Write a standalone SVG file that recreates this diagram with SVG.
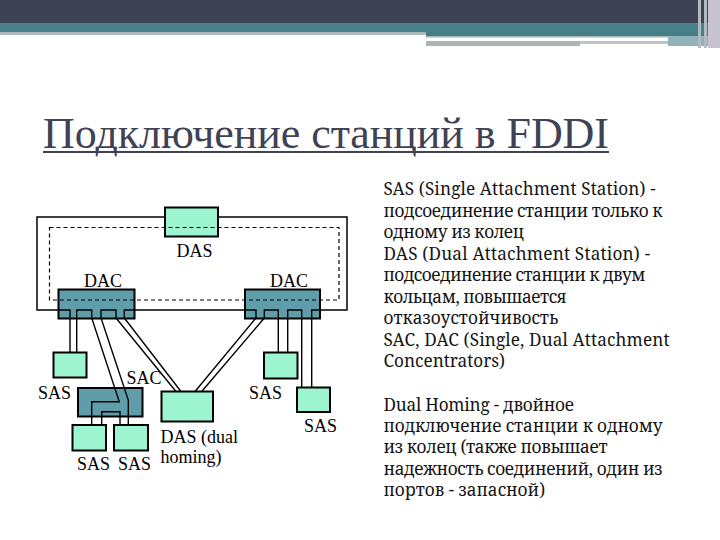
<svg xmlns="http://www.w3.org/2000/svg" width="720" height="540" viewBox="0 0 720 540">
<style>
.lbl{font-family:"Liberation Serif","Times New Roman",serif;font-size:18px;fill:#000}
.txt{font-family:"Noto Serif","FreeSerif","Tinos",serif;font-size:17.2px;fill:#141414}
.das{fill:#9cf5d0;stroke:#000;stroke-width:2}
.dac{fill:#5f9dab;stroke:#000;stroke-width:2}
.wire{fill:none;stroke:#000;stroke-width:1.4}
.ring{fill:none;stroke:#000;stroke-width:1.5}
.dash{fill:none;stroke:#000;stroke-width:1.2;stroke-dasharray:4 3}
</style>
<rect width="720" height="540" fill="#fff"/>
<g id="header">
<rect x="0" y="0" width="720" height="24" fill="#3e4354"/>
<rect x="0" y="23" width="720" height="10" fill="#478189"/>
<rect x="0" y="32" width="426" height="3" fill="#a9b6ba"/>
<rect x="426" y="32" width="294" height="4" fill="#457f86"/>
<rect x="426" y="36" width="242" height="1.5" fill="#a6b3b3"/>
<rect x="426" y="41" width="154" height="5" fill="#a8b6b4"/>
<rect x="580" y="41" width="88" height="3" fill="#bac6c5"/>
<rect x="668" y="36" width="40" height="10" fill="#8fb3b8"/>
<rect x="698" y="0" width="3" height="48" fill="#b4bac4"/>
<rect x="704" y="0" width="3" height="48" fill="#b4bac4"/>
<rect x="708" y="0" width="12" height="48" fill="#c5c4d0"/>
</g>
<g id="title">
<text x="43" y="148" font-family="'Liberation Serif','Times New Roman',serif" font-size="44" fill="#3f4254" textLength="566" lengthAdjust="spacing">Подключение станций в FDDI</text>
<rect x="43" y="151" width="566" height="2" fill="#3f4254"/>
</g>
<g id="ring-outer"><rect class="ring" x="37" y="217" width="310" height="93"/></g>
<g id="das-top"><rect class="das" x="165" y="207.5" width="53" height="29"/></g>
<g id="dac-left"><rect class="dac" x="58.5" y="289.5" width="76" height="29"/></g>
<g id="dac-right"><rect class="dac" x="245" y="289.5" width="75" height="29"/></g>
<g id="sac"><rect class="dac" x="78" y="388" width="64.5" height="28.5"/></g>
<g id="sas-left"><rect class="das" x="53.5" y="352.5" width="33" height="25"/></g>
<g id="sas-low-left"><rect class="das" x="72.5" y="425" width="33.5" height="25.5"/></g>
<g id="sas-low-right"><rect class="das" x="114" y="425" width="34" height="25.5"/></g>
<g id="das-dual"><rect class="das" x="161.5" y="391.5" width="51.5" height="30"/></g>
<g id="sas-mid-right"><rect class="das" x="264" y="352.5" width="33.5" height="26"/></g>
<g id="sas-far-right"><rect class="das" x="297" y="387.5" width="33" height="24.5"/></g>
<g id="ring-inner"><rect class="dash" x="49.5" y="227.5" width="289.5" height="72.5"/></g>
<g id="connectors">
<path class="wire" d="M58.5,310 H70 V352.5"/>
<path class="wire" d="M76.7,352.5 V310 H91.7 V318 L119.3,401.7 H91.7 V425"/>
<path class="wire" d="M128.3,425 V400 L101,318 V310 H116 V318 L176,391.5"/>
<path class="wire" d="M181,391.5 L124.3,318 V310 H134.5"/>
<path class="wire" d="M101.7,425 V411.7 H120 V425"/>
<path class="wire" d="M245,310 H256 V318 L195,391.5"/>
<path class="wire" d="M201.7,391.5 L264.3,318 V310 H278.3 V352.5"/>
<path class="wire" d="M287.7,352.5 V310 H301.7 V387.5"/>
<path class="wire" d="M311.7,387.5 V310 H320"/>
</g>
<g id="labels">
<text class="lbl" x="176.5" y="257">DAS</text>
<text class="lbl" x="84" y="287">DAC</text>
<text class="lbl" x="270" y="287">DAC</text>
<text class="lbl" x="38" y="398.5">SAS</text>
<text class="lbl" x="126.5" y="383.5">SAC</text>
<text class="lbl" x="249" y="398.5">SAS</text>
<text class="lbl" x="304" y="432">SAS</text>
<text class="lbl" x="160.5" y="442.5">DAS (dual</text>
<text class="lbl" x="160.5" y="463">homing)</text>
<text class="lbl" x="77" y="470">SAS</text>
<text class="lbl" x="118" y="470">SAS</text>
</g>
<g id="description">
<text class="txt" x="383.5" y="195" textLength="272" lengthAdjust="spacing">SAS (Single Attachment Station) -</text>
<text class="txt" x="383.5" y="216.5" textLength="279" lengthAdjust="spacing">подсоединение станции только к</text>
<text class="txt" x="383.5" y="238" textLength="140.5" lengthAdjust="spacing">одному из колец</text>
<text class="txt" x="383.5" y="259.5" textLength="266.5" lengthAdjust="spacing">DAS (Dual Attachment Station) -</text>
<text class="txt" x="383.5" y="281" textLength="262" lengthAdjust="spacing">подсоединение станции к двум</text>
<text class="txt" x="383.5" y="302.5" textLength="183" lengthAdjust="spacing">кольцам, повышается</text>
<text class="txt" x="383.5" y="324">отказоустойчивость</text>
<text class="txt" x="383.5" y="345.5" textLength="286" lengthAdjust="spacing">SAC, DAC (Single, Dual Attachment</text>
<text class="txt" x="383.5" y="367">Concentrators)</text>
<text class="txt" x="383.5" y="410.5" textLength="190.5" lengthAdjust="spacing">Dual Homing - двойное</text>
<text class="txt" x="383.5" y="431.5" textLength="279" lengthAdjust="spacing">подключение станции к одному</text>
<text class="txt" x="383.5" y="453" textLength="224" lengthAdjust="spacing">из колец (также повышает</text>
<text class="txt" x="383.5" y="474.5" textLength="279" lengthAdjust="spacing">надежность соединений, один из</text>
<text class="txt" x="383.5" y="496">портов - запасной)</text>
</g>
</svg>
